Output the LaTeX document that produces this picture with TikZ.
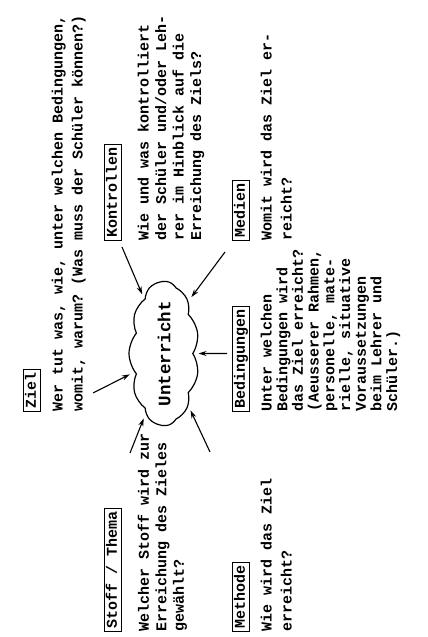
\documentclass[tikz,border=0pt]{standalone}
\usepackage{fontspec}
\setmonofont{Liberation Mono}
\usetikzlibrary{shapes.symbols,arrows.meta}
\begin{document}
\begin{tikzpicture}[x=1pt,y=1pt,rotate=90,transform shape,
    kasten/.style={draw,line width=1.1pt,inner xsep=3pt,inner ysep=2pt,text height=10.5pt,text depth=3pt,anchor=west,font=\ttfamily\bfseries\fontsize{15}{18}\selectfont},
    frage/.style={anchor=north west,inner sep=0pt,align=left,font=\ttfamily\bfseries\fontsize{15}{#1}\selectfont},
    wolke/.style={cloud,cloud puffs=11,cloud puff arc=80,cloud ignores aspect,draw,line width=1.2pt,minimum width=141pt,minimum height=70pt,inner sep=0pt,font=\ttfamily\bfseries\fontsize{17.5}{20}\selectfont},
    pfeil/.style={-{Stealth[length=8pt,width=5pt]},line width=1.1pt,shorten >=5pt}]
    \useasboundingbox (0,0) rectangle (637,-428);

    \node[kasten] (ziel) at (225,-32) {Ziel};
    \node[frage=20] (zielText) at (225,-51.5) {Wer tut was, wie, unter welchen Bedingungen,\\womit, warum? (Was muss der Schüler können?)};

    \node[kasten] (kontrollen) at (396,-113) {Kontrollen};
    \node[frage=17.5] (kontrollenText) at (396,-137.5) {Wie und was kontrolliert\\der Schüler und/oder Leh-\\rer im Hinblick auf die\\Erreichung des Ziels?};

    \node[kasten] (stoff) at (5,-113) {Stoff / Thema};
    \node[frage=17.5] (stoffText) at (5,-137.5) {Welcher Stoff wird zur\\Erreichung des Zieles\\gewählt?};

    \node[kasten] (medien) at (396,-241) {Medien};
    \node[frage=20] (medienText) at (396,-260.5) {Womit wird das Ziel er-\\reicht?};

    \node[kasten] (bedingungen) at (225,-241) {Bedingungen};
    \node[frage=15.7] (bedingungenText) at (225,-260.5) {Unter welchen\\Bedingungen wird\\das Ziel erreicht?\\(Aeusserer Rahmen,\\personelle, mate-\\rielle, situative\\Voraussetzungen\\beim Lehrer und\\Schüler.)};

    \node[kasten] (methode) at (5,-241) {Methode};
    \node[frage=20] (methodeText) at (5,-260.5) {Wie wird das Ziel\\erreicht?};

    \node[wolke] (wolke) at (283.5,-164) {Unterricht};

    \coordinate (pZiel) at (244,-93);
    \coordinate (pKontrollen) at (390,-122);
    \coordinate (pMedien) at (385,-225);
    \coordinate (pBedingungen) at (283.5,-227);
    \coordinate (pMethode) at (185,-210);
    \coordinate (pStoff) at (184,-130);

    \foreach \p/\w in {pZiel/122,pKontrollen/20,pMedien/-25,pMethode/-155,pStoff/163}
        \draw[pfeil] (\p) -- (wolke.\w);
    \draw[pfeil] (pBedingungen) -- (wolke.south);
\end{tikzpicture}
\end{document}
